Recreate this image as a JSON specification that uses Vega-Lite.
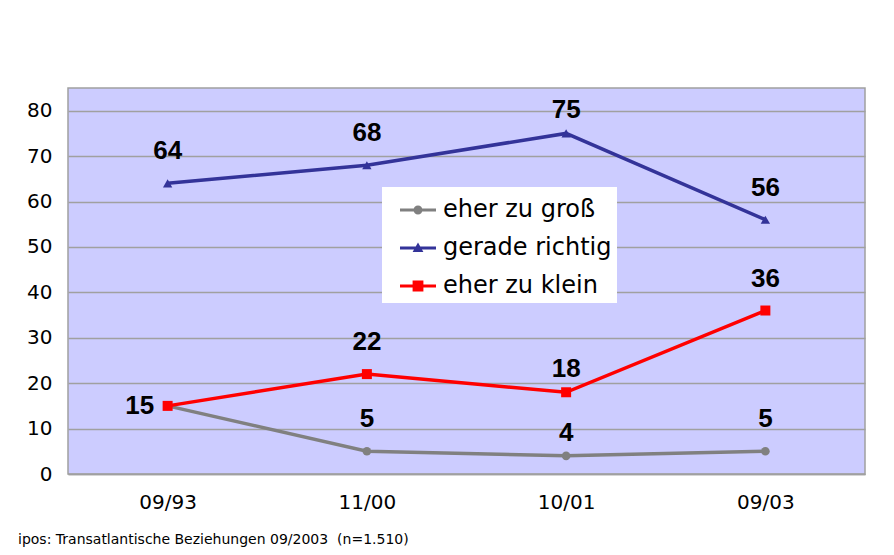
{
  "$schema": "https://vega.github.io/schema/vega-lite/v6.json",
  "autosize": {"type": "none"},
  "padding": {"left": 68, "top": 88, "right": 29, "bottom": 81},
  "width": 797,
  "height": 386,
  "background": "white",
  "title": {
    "text": "ipos: Transatlantische Beziehungen 09/2003\u00a0\u00a0(n=1.510)",
    "orient": "bottom",
    "anchor": "start",
    "frame": "group",
    "dx": -50,
    "offset": 21,
    "font": "DejaVu Sans",
    "fontSize": 14,
    "fontWeight": "normal",
    "color": "#000000"
  },
  "config": {
    "font": "DejaVu Sans",
    "view": {"fill": "#ccccff", "stroke": "#a0a0a0", "strokeWidth": 1.5},
    "legend": {
      "orient": "none",
      "legendX": 314,
      "legendY": 99,
      "fillColor": "#ffffff",
      "padding": 5,
      "symbolOffset": 13,
      "labelOffset": 7,
      "labelFont": "DejaVu Sans",
      "labelFontSize": 24,
      "labelColor": "#000000",
      "labelLimit": 400,
      "rowPadding": 8,
      "symbolSize": 1296,
      "symbolStrokeWidth": 0,
      "symbolOpacity": 1
    }
  },
  "data": {
    "values": [
      {"period": "09/93", "series": "eher zu groß", "value": 15},
      {"period": "11/00", "series": "eher zu groß", "value": 5},
      {"period": "10/01", "series": "eher zu groß", "value": 4},
      {"period": "09/03", "series": "eher zu groß", "value": 5},
      {"period": "09/93", "series": "gerade richtig", "value": 64},
      {"period": "11/00", "series": "gerade richtig", "value": 68},
      {"period": "10/01", "series": "gerade richtig", "value": 75},
      {"period": "09/03", "series": "gerade richtig", "value": 56},
      {"period": "09/93", "series": "eher zu klein", "value": 15},
      {"period": "11/00", "series": "eher zu klein", "value": 22},
      {"period": "10/01", "series": "eher zu klein", "value": 18},
      {"period": "09/03", "series": "eher zu klein", "value": 36}
    ]
  },
  "encoding": {
    "x": {
      "field": "period",
      "type": "ordinal",
      "sort": ["09/93", "11/00", "10/01", "09/03"],
      "scale": {"type": "point", "padding": 0.5},
      "axis": {
        "title": null,
        "labelAngle": 0,
        "labelFont": "DejaVu Sans",
        "labelFontSize": 20,
        "labelColor": "#000000",
        "labelPadding": 18,
        "ticks": false,
        "domain": true,
        "domainColor": "#a0a0a0",
        "domainWidth": 1.5,
        "grid": false
      }
    },
    "y": {
      "field": "value",
      "type": "quantitative",
      "scale": {"domain": [0, 85], "nice": false, "zero": true},
      "axis": {
        "title": null,
        "values": [0, 10, 20, 30, 40, 50, 60, 70, 80],
        "labelFont": "DejaVu Sans",
        "labelFontSize": 20,
        "labelColor": "#000000",
        "labelPadding": 16,
        "ticks": false,
        "domain": false,
        "grid": true,
        "gridColor": "#a0a0a0",
        "gridWidth": 1.5
      }
    }
  },
  "layer": [
    {
      "mark": {"type": "line", "strokeWidth": 3.5},
      "encoding": {
        "color": {
          "field": "series",
          "type": "nominal",
          "scale": {"domain": ["eher zu groß", "gerade richtig", "eher zu klein"], "range": ["#808080", "#333399", "#ff0000"]},
          "legend": null
        }
      }
    },
    {
      "mark": {"type": "point", "filled": true, "opacity": 1},
      "encoding": {
        "color": {
          "field": "series",
          "type": "nominal",
          "scale": {"domain": ["eher zu groß", "gerade richtig", "eher zu klein"], "range": ["#808080", "#333399", "#ff0000"]},
          "legend": null
        },
        "shape": {
          "field": "series",
          "type": "nominal",
          "scale": {"domain": ["eher zu groß", "gerade richtig", "eher zu klein"], "range": ["circle", "triangle-up", "square"]},
          "legend": null
        },
        "size": {
          "field": "series",
          "type": "nominal",
          "scale": {"domain": ["eher zu groß", "gerade richtig", "eher zu klein"], "range": [75, 100, 140]},
          "legend": null
        }
      }
    },
    {
      "transform": [{"filter": "false"}],
      "mark": {"type": "point", "filled": true, "opacity": 1, "size": 1296},
      "encoding": {
        "color": {
          "field": "series",
          "type": "nominal",
          "scale": {"domain": ["eher zu groß", "gerade richtig", "eher zu klein"], "range": ["#808080", "#333399", "#ff0000"]},
          "legend": {"title": null, "labelExpr": "datum.label + '\u00a0\u00a0\u00a0'"}
        },
        "shape": {
          "field": "series",
          "type": "nominal",
          "scale": {
            "domain": ["eher zu groß", "gerade richtig", "eher zu klein"],
            "range": [
              "M-1,-0.083 L1,-0.083 L1,0.083 L-1,0.083 Z M0.25,0 A0.25,0.25 0 1,1 -0.25,0 A0.25,0.25 0 1,1 0.25,0 Z",
              "M-1,-0.083 L1,-0.083 L1,0.083 L-1,0.083 Z M0,-0.3 L0.3,0.22 L-0.3,0.22 Z",
              "M-1,-0.083 L1,-0.083 L1,0.083 L-1,0.083 Z M-0.3,-0.3 L0.3,-0.3 L0.3,0.3 L-0.3,0.3 Z"
            ]
          },
          "legend": {"title": null, "labelExpr": "datum.label + '\u00a0\u00a0\u00a0'"}
        }
      }
    },
    {
      "transform": [{"filter": "datum.period != '10/01' && !(datum.period == '09/93' && datum.series != 'gerade richtig')"}],
      "mark": {"type": "text", "font": "Liberation Sans", "fontSize": 26, "fontWeight": "bold", "dy": -32, "color": "#000000"},
      "encoding": {"text": {"field": "value", "type": "quantitative"}}
    },
    {
      "transform": [{"filter": "datum.period == '10/01'"}],
      "mark": {"type": "text", "font": "Liberation Sans", "fontSize": 26, "fontWeight": "bold", "dy": -23, "color": "#000000"},
      "encoding": {"text": {"field": "value", "type": "quantitative"}}
    },
    {
      "transform": [{"filter": "datum.period == '09/93' && datum.series == 'eher zu klein'"}],
      "mark": {"type": "text", "font": "Liberation Sans", "fontSize": 26, "fontWeight": "bold", "dx": -28, "dy": 0, "color": "#000000"},
      "encoding": {"text": {"field": "value", "type": "quantitative"}}
    }
  ],
  "resolve": {"scale": {"shape": "independent", "size": "independent", "color": "independent"}}
}
